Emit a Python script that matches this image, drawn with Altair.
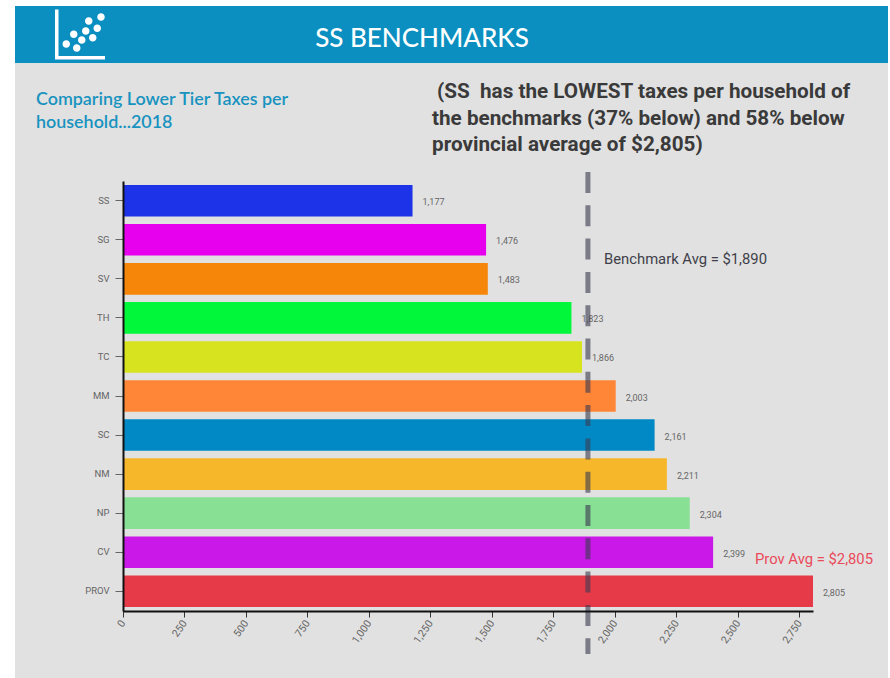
import altair as alt
import pandas as pd

# Lower tier taxes per household, 2018
areas = ["SS", "SG", "SV", "TH", "TC", "MM", "SC", "NM", "NP", "CV", "PROV"]
taxes = [1177, 1476, 1483, 1823, 1866, 2003, 2161, 2211, 2304, 2399, 2805]
bar_colors = ["#1c33e8", "#e600ee", "#f5860a", "#00f73a", "#d8e31f", "#ff8537",
              "#0089c4", "#f6b72a", "#88e094", "#c918e8", "#e73a49"]
x_ticks = [0, 250, 500, 750, 1000, 1250, 1500, 1750, 2000, 2250, 2500, 2750]
benchmark_avg = 1890
prov_avg = 2805

BAND = "#0a8fc0"
PANEL = "#e1e1e1"
PAD = {"left": 123, "top": 181, "right": 77, "bottom": 67}
PLOT_W, PLOT_H = 690, 430

# Scatter-plot emblem in the banner: an L-shaped axis and a cloud of dots
def dot(cx, cy, r):
    return f"M{cx - r} {cy}a{r} {r} 0 1 0 {2 * r} 0a{r} {r} 0 1 0 {-2 * r} 0Z"

emblem_dots = [(0.84, -0.70), (0.35, -0.54), (0.69, -0.25), (0.23, -0.14), (-0.25, -0.01),
               (0.51, 0.13), (0.07, 0.22), (-0.55, 0.38), (-0.13, 0.54)]
emblem_path = "M-1 -1L-0.86 -1L-0.86 0.86L1 0.86L1 1L-1 1Z" + "".join(
    dot(x, y, 0.15) for x, y in emblem_dots
)

df = pd.DataFrame({"area": areas, "tax": taxes, "color": bar_colors})
one = pd.DataFrame({"a": [0]})

x_scale = alt.Scale(domain=[0, 2805], nice=False, zero=True)
y_scale = alt.Scale(domain=areas, paddingInner=0.19, paddingOuter=0.1)


def static(mark):
    return alt.Chart(one).mark_rect(**mark)


panel = static({"color": PANEL}).encode(
    x=alt.value(15 - PAD["left"]), x2=alt.value(888 - PAD["left"]),
    y=alt.value(6 - PAD["top"]), y2=alt.value(678 - PAD["top"]),
)
banner = static({"color": BAND}).encode(
    x=alt.value(15 - PAD["left"]), x2=alt.value(888 - PAD["left"]),
    y=alt.value(6 - PAD["top"]), y2=alt.value(63 - PAD["top"]),
)
emblem = alt.Chart(one).mark_point(
    shape=emblem_path, filled=True, color="white", opacity=1, size=2500, strokeWidth=0
).encode(x=alt.value(80 - PAD["left"]), y=alt.value(34.5 - PAD["top"]))


def label(text, px, py, **style):
    return alt.Chart(pd.DataFrame({"t": [text]})).mark_text(
        baseline="middle", clip=False, **style
    ).encode(text="t:N", x=alt.value(px - PAD["left"]), y=alt.value(py - PAD["top"]))


title = label("SS BENCHMARKS", 422, 39, font="Lato", fontSize=26, fontWeight=500,
              color="white", align="center")
sub_a = label("Comparing Lower Tier Taxes per", 36, 100, font="Lato", fontSize=17.9,
              fontWeight=600, color="#1893bf", align="left")
sub_b = label("household...2018", 36, 123, font="Lato", fontSize=17.9,
              fontWeight=600, color="#1893bf", align="left")
note_a = label("(SS\u00a0 has the LOWEST taxes per household of", 437, 92, font="Roboto",
               fontSize=20.7, fontWeight="bold", color="#3a3a3a", align="left")
note_b = label("the benchmarks (37% below) and 58% below", 432, 119, font="Roboto",
               fontSize=20.7, fontWeight="bold", color="#3a3a3a", align="left")
note_c = label("provincial average of $2,805)", 432, 145, font="Roboto",
               fontSize=20.7, fontWeight="bold", color="#3a3a3a", align="left")

bars = alt.Chart(df).mark_bar().encode(
    x=alt.X("tax:Q", scale=x_scale, title=None, axis=alt.Axis(
        values=x_ticks, format=",.0f", labelAngle=-55, labelAlign="right", labelBaseline="middle",
        labelFont="Roboto", labelFontSize=10.5, labelColor="#666666", labelPadding=4,
        tickColor="#333333", tickSize=6, domainColor="#111111", domainWidth=2, grid=False,
        labelOverlap=False, labelFlush=False, zindex=1,
    )),
    y=alt.Y("area:N", sort=areas, scale=y_scale, title=None, axis=alt.Axis(
        labelFont="Roboto", labelFontSize=9.5, labelColor="#666666", labelPadding=6,
        tickColor="#666666", tickSize=8, domainColor="#111111", domainWidth=2, grid=False,
        zindex=1,
    )),
    color=alt.Color("area:N", sort=areas, legend=None,
                    scale=alt.Scale(domain=areas, range=bar_colors)),
)

values = alt.Chart(df).mark_text(
    align="left", baseline="middle", dx=10, dy=1.5, font="Roboto", fontSize=9, color="#666666"
).encode(
    x=alt.X("tax:Q", scale=x_scale),
    y=alt.Y("area:N", sort=areas, scale=y_scale),
    text=alt.Text("tax:Q", format=","),
)

benchmark_rule = alt.Chart(pd.DataFrame({"v": [benchmark_avg]})).mark_rule(
    color="#3c3c50", opacity=0.62, strokeWidth=5, strokeDash=[21, 12.3]
).encode(
    x=alt.X("v:Q", scale=x_scale),
    y=alt.value(172 - PAD["top"]),
    y2=alt.value(654 - PAD["top"]),
)

benchmark_text = label(f"Benchmark Avg = ${benchmark_avg:,}", 604, 260, font="Roboto",
                       fontSize=14.8, color="#3f3f4a", align="left")
prov_text = label(f"Prov Avg = ${prov_avg:,}", 755, 560, font="Roboto", fontSize=14.8,
                  color="#ea4a5a", align="left")

chart = alt.layer(
    panel, banner, emblem, title, sub_a, sub_b, note_a, note_b, note_c,
    bars, values, benchmark_rule, benchmark_text, prov_text,
).resolve_scale(x="shared", y="shared").properties(
    width=PLOT_W, height=PLOT_H, padding=PAD, background="white",
    autosize=alt.AutoSizeParams(type="none"),
).configure_view(stroke=None)

chart.save("out.html", embed_options={"renderer": "svg", "actions": False})
